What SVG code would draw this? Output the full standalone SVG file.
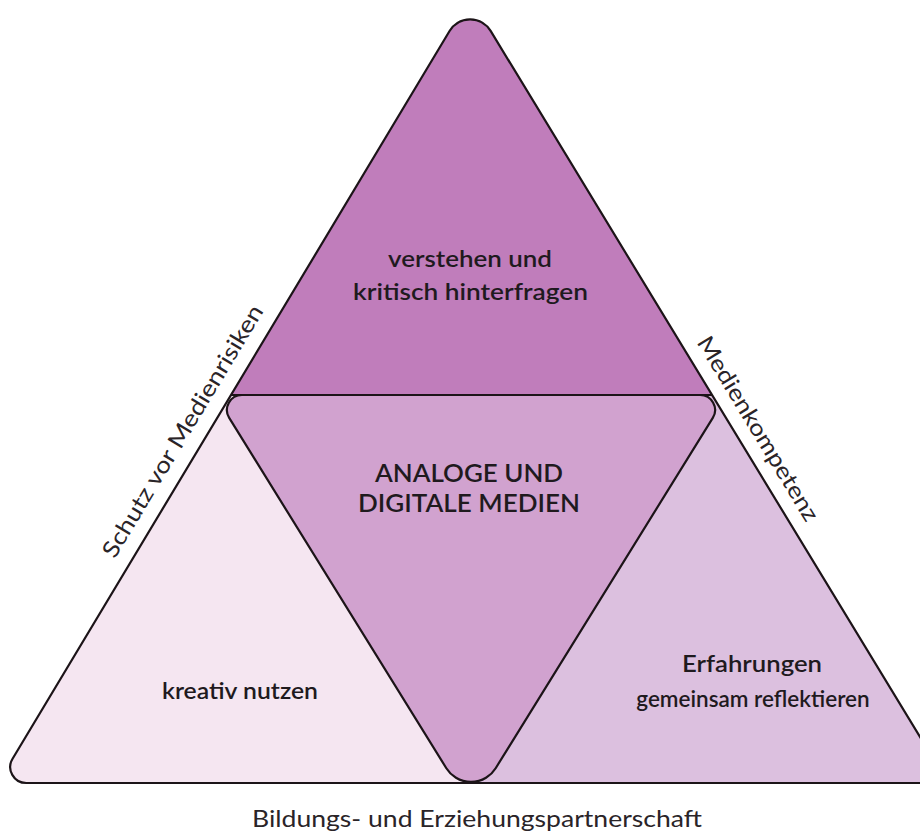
<svg xmlns="http://www.w3.org/2000/svg" width="920" height="837" viewBox="0 0 920 837">
  <style>
    .edge { fill: none; stroke: #1c1418; stroke-width: 2.2; stroke-linejoin: round; }
    .field { font-family: Lato, "Open Sans", sans-serif; font-weight: 600; fill: #1f1a1e; text-anchor: middle; }
    .title { font-family: Lato, "Open Sans", sans-serif; font-weight: 600; fill: #1f1a1e; text-anchor: middle; }
    .side { font-family: Lato, "Open Sans", sans-serif; font-weight: 400; fill: #2a2428; text-anchor: middle; }
  </style>
  <defs>
    <!-- outer pyramid with rounded corners (apex, bottom-left, bottom-right) -->
    <path id="outerShape" d="M490.63,30.92 L933.2,758.6 A16,16 0 0 1 919.5,783 L26.3,783 A16,16 0 0 1 12.57,758.7 L449.56,31.03 A24,24 0 0 1 490.63,30.92 Z"/>
    <!-- inverted inner triangle -->
    <path id="innerShape" d="M241.95,395 L700.05,395 A15,15 0 0 1 712.8,417.9 L495.66,768.22 A29,29 0 0 1 446.34,768.22 L229.2,417.9 A15,15 0 0 1 241.95,395 Z"/>
    <clipPath id="outerClip">
      <use href="#outerShape"/>
    </clipPath>
  </defs>

  <rect width="920" height="837" fill="#ffffff"/>

  <!-- corner fields -->
  <g clip-path="url(#outerClip)">
    <rect id="field-top" x="0" y="-10" width="960" height="405" fill="#c07dbb"/>
    <rect id="field-left" x="0" y="395" width="471" height="400" fill="#f5e6f1"/>
    <rect id="field-right" x="471" y="395" width="490" height="400" fill="#dcc0df"/>
  </g>

  <g id="node-center">
    <use href="#innerShape" fill="#d1a2cf"/>
  </g>

  <!-- outlines -->
  <g id="connectors">
    <line class="edge" x1="231" y1="395" x2="712" y2="395"/>
    <use href="#innerShape" class="edge"/>
    <use href="#outerShape" class="edge"/>
  </g>

  <g id="node-top">
    <text class="field" x="470" y="267" font-size="22.5" textLength="164" lengthAdjust="spacingAndGlyphs">verstehen und</text>
    <text class="field" x="470.5" y="300" font-size="22.5" textLength="235" lengthAdjust="spacingAndGlyphs">kritisch hinterfragen</text>
  </g>

  <g id="node-middle">
    <text class="title" x="469" y="482" font-size="25" textLength="188" lengthAdjust="spacingAndGlyphs">ANALOGE UND</text>
    <text class="title" x="469" y="512" font-size="25" textLength="222" lengthAdjust="spacingAndGlyphs">DIGITALE MEDIEN</text>
  </g>

  <g id="node-left">
    <text class="field" x="240" y="699" font-size="22.5" textLength="156" lengthAdjust="spacingAndGlyphs">kreativ nutzen</text>
  </g>

  <g id="node-right">
    <text class="field" x="752" y="672" font-size="22.5" textLength="140" lengthAdjust="spacingAndGlyphs">Erfahrungen</text>
    <text class="field" x="753" y="707" font-size="22.5">gemeinsam reflektieren</text>
  </g>

  <g id="label-left" transform="translate(202.3,442.9) rotate(-59.02)">
    <text class="side" x="0" y="-15" font-size="23" textLength="290" lengthAdjust="spacingAndGlyphs">Schutz vor Medienrisiken</text>
  </g>

  <g id="label-right" transform="translate(739.4,440) rotate(58.69)">
    <text class="side" x="0" y="-14" font-size="23" textLength="212" lengthAdjust="spacingAndGlyphs">Medienkompetenz</text>
  </g>

  <g id="label-bottom">
    <text class="side" x="477" y="827" font-size="23.5" textLength="450" lengthAdjust="spacingAndGlyphs">Bildungs- und Erziehungspartnerschaft</text>
  </g>
</svg>
